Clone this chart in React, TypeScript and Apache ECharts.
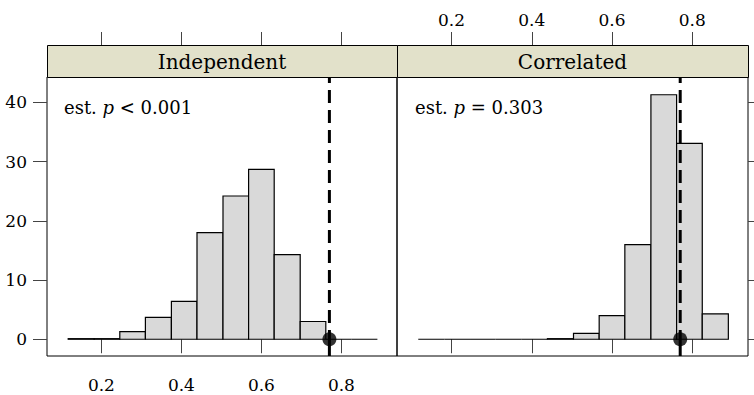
import React, { useEffect, useRef } from "react";
import * as echarts from "echarts";

// ---- data ----
const panelNames = ["Independent", "Correlated"];
const binEdges = [0.117, 0.182, 0.246, 0.31, 0.375, 0.439, 0.504, 0.568, 0.632, 0.697, 0.761, 0.825, 0.89];
const independentPct = [0.1, 0.1, 1.3, 3.7, 6.4, 18.0, 24.2, 28.7, 14.3, 3.0, 0, 0];
const correlatedPct = [0, 0, 0, 0, 0, 0.1, 1.0, 4.0, 16.0, 41.3, 33.1, 4.3];
const observed = 0.77;
const xTicks = [0.2, 0.4, 0.6, 0.8];
const yTicks = [0, 10, 20, 30, 40];
const annotationPieces = [
  [["est. ", false], ["p", true], [" < 0.001", false]],
  [["est. ", false], ["p", true], [" = 0.303", false]],
];

const X_MIN = 0.064;
const X_MAX = 0.939;
const Y_MIN = -2.83;
const Y_MAX = 44.3;

const FONT = "DejaVu Serif";

export default function App() {
  const ref = useRef<HTMLDivElement>(null);
  useEffect(() => {
    if (!ref.current) return;
    const chart = echarts.init(ref.current, undefined, { renderer: "svg" });
    const ctx = document.createElement("canvas").getContext("2d")!;

    const grids = [
      { left: 47, top: 77, width: 350, height: 279 },
      { left: 397, top: 77, width: 351, height: 279 },
    ];

    const tickColor = "#444";
    const xAxes: any[] = [];
    const yAxes: any[] = [];
    grids.forEach((g, i) => {
      xAxes.push({
        type: "value", gridIndex: i, position: "bottom", min: X_MIN, max: X_MAX,
        axisLine: { show: false }, splitLine: { show: false },
        axisTick: { show: true, inside: false, length: 14, customValues: xTicks, lineStyle: { color: tickColor } },
        axisLabel: { show: i === 0, customValues: xTicks, margin: 20, color: "#000", fontFamily: FONT, fontSize: 17, formatter: (v: number) => String(v) },
      });
      xAxes.push({
        type: "value", gridIndex: i, position: "top", offset: 32, min: X_MIN, max: X_MAX,
        axisLine: { show: false }, splitLine: { show: false },
        axisTick: { show: true, inside: false, length: 13, customValues: xTicks, lineStyle: { color: tickColor } },
        axisLabel: { show: i === 1, customValues: xTicks, margin: 17, color: "#000", fontFamily: FONT, fontSize: 17, formatter: (v: number) => String(v) },
      });
      yAxes.push({
        type: "value", gridIndex: i, position: i === 0 ? "left" : "right", min: Y_MIN, max: Y_MAX,
        axisLine: { show: false }, splitLine: { show: false },
        axisTick: { show: true, inside: false, length: 14, customValues: yTicks, lineStyle: { color: tickColor } },
        axisLabel: { show: i === 0, customValues: yTicks, margin: 20, color: "#000", fontFamily: FONT, fontSize: 17 },
      });
    });

    const series: any[] = [];
    [independentPct, correlatedPct].forEach((vals, i) => {
      const data = vals.map((v, k) => [binEdges[k], binEdges[k + 1], v]);
      series.push({
        type: "custom",
        xAxisIndex: i * 2, yAxisIndex: i,
        data,
        encode: { x: [0, 1], y: 2 },
        renderItem: (params: any, api: any) => {
          const p0 = api.coord([api.value(0), api.value(2)]);
          const p1 = api.coord([api.value(1), 0]);
          return {
            type: "rect",
            shape: { x: p0[0], y: p0[1], width: p1[0] - p0[0], height: p1[1] - p0[1] },
            style: { fill: "#d9d9d9", stroke: "#000", lineWidth: 1.2 },
          };
        },
        z: 2,
      });
      series.push({
        type: "line", xAxisIndex: i * 2, yAxisIndex: i, symbol: "none",
        data: [[observed, Y_MAX], [observed, 0]],
        lineStyle: { color: "#000", width: 3, type: [13, 7], dashOffset: 7 },
        z: 3,
      });
      series.push({
        type: "line", xAxisIndex: i * 2, yAxisIndex: i, symbol: "none",
        data: [[observed, 0], [observed, Y_MIN]],
        lineStyle: { color: "#000", width: 3 },
        z: 3,
      });
      series.push({
        type: "scatter", xAxisIndex: i * 2, yAxisIndex: i,
        data: [[observed, 0]], symbol: "circle", symbolSize: 14,
        itemStyle: { color: "#000" },
        z: 4,
      });
    });

    const graphics: any[] = [];
    grids.forEach((g, i) => {
      graphics.push({
        type: "rect", left: g.left, top: 45,
        shape: { width: g.width, height: 32 },
        style: { fill: "#e2e1ca", stroke: "#000", lineWidth: 1 },
        z: 10,
      });
      graphics.push({
        type: "text", x: g.left + g.width / 2, y: 62,
        style: { text: panelNames[i], fontFamily: FONT, fontSize: 20, fill: "#000", align: "center", verticalAlign: "middle" },
        z: 11,
      });
      let x = g.left + (i === 0 ? 17 : 18);
      (annotationPieces[i] as any[]).forEach(([txt, italic]) => {
        ctx.font = `${italic ? "italic " : ""}18px "${FONT}"`;
        const w = ctx.measureText(txt).width;
        graphics.push({
          type: "text", x, y: 107,
          style: {
            text: txt, fontFamily: FONT, fontSize: 18, fontStyle: italic ? "italic" : "normal",
            fill: "#000", align: "left", verticalAlign: "middle",
          },
          z: 11,
        });
        x += w;
      });
    });

    chart.setOption({
      animation: false,
      backgroundColor: "#fff",
      grid: grids.map((g) => ({ ...g, show: true, borderColor: "#000", borderWidth: 1, backgroundColor: "transparent", containLabel: false })),
      xAxis: xAxes,
      yAxis: yAxes,
      series,
      graphic: graphics,
    });
    return () => chart.dispose();
  }, []);
  return <div ref={ref} style={{ position: "fixed", left: 0, top: 0, width: 754, height: 395 }} />;
}
